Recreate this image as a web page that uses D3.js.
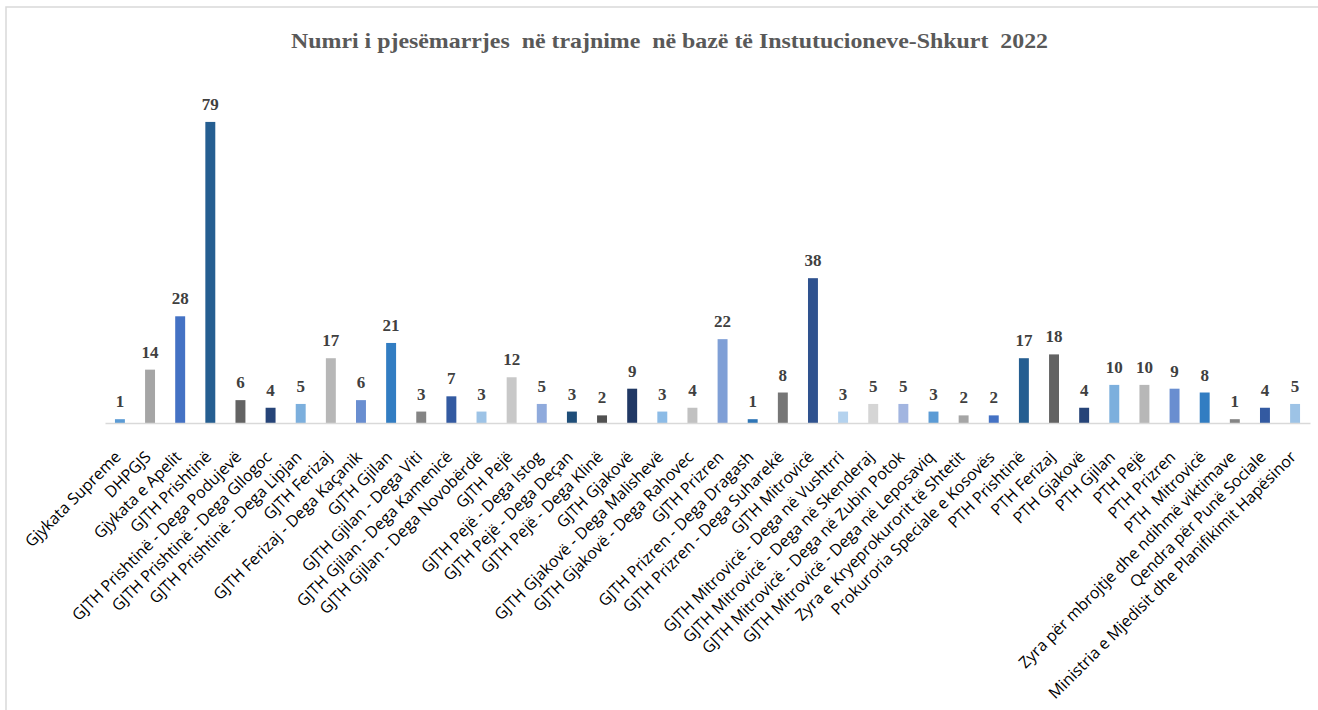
<!DOCTYPE html>
<html>
<head>
<meta charset="utf-8">
<script src="https://cdn.jsdelivr.net/npm/d3@7"></script>
<style>
  body { margin: 0; background: #fff; }
  svg { display: block; }
  svg text { white-space: pre; }
</style>
</head>
<body>
<div id="chart"></div>
<script>
// chart data
const categories = [
    "Gjykata Supreme", "DHPGJS", "Gjykata e Apelit", "GJTH Prishtinë",
    "GJTH Prishtinë - Dega Podujevë", "GJTH Prishtinë - Dega Gllogoc", "GJTH Prishtinë - Dega Lipjan",
    "GJTH Ferizaj", "GJTH Ferizaj - Dega Kaçanik", "GJTH Gjilan", "GJTH Gjilan - Dega Viti",
    "GJTH Gjilan - Dega Kamenicë", "GJTH Gjilan - Dega Novobërdë", "GJTH Pejë", "GJTH Pejë - Dega Istog",
    "GJTH Pejë - Dega Deçan", "GJTH Pejë - Dega Klinë", "GJTH Gjakovë", "GJTH Gjakovë - Dega Malishevë",
    "GJTH Gjakovë - Dega Rahovec", "GJTH Prizren", "GJTH Prizren - Dega Dragash", "GJTH Prizren - Dega Suharekë",
    "GJTH Mitrovicë", "GJTH Mitrovicë - Dega në Vushtrri", "GJTH Mitrovicë - Dega në Skenderaj",
    "GJTH Mitrovicë - Dega në Zubin Potok", "GJTH Mitrovicë - Dega në Leposaviq",
    "Zyra e Kryeprokurorit të Shtetit", "Prokuroria Speciale e Kosovës", "PTH Prishtinë", "PTH Ferizaj",
    "PTH Gjakovë", "PTH Gjilan", "PTH Pejë", "PTH Prizren", "PTH  Mitrovicë",
    "Zyra për mbrojtje dhe ndihmë viktimave", "Qendra për Punë Sociale",
    "Ministria e Mjedisit dhe Planifikimit Hapësinor"
];
const values = [1, 14, 28, 79, 6, 4, 5, 17, 6, 21, 3, 7, 3, 12, 5, 3, 2, 9, 3, 4, 22, 1, 8, 38,
    3, 5, 5, 3, 2, 2, 17, 18, 4, 10, 10, 9, 8, 1, 4, 5];
const titleText = "Numri i pjesëmarrjes  në trajnime  në bazë të Instutucioneve-Shkurt  2022";

// point colours, repeating
const palette = [
    "#5b9bd5", "#a5a5a5", "#4472c4", "#255e91", "#636363", "#264478", "#7cafdd", "#b7b7b7", "#698ed0",
    "#327dc2", "#848484", "#335aa1", "#9dc3e6", "#c8c8c8", "#8faadc", "#1f4e79", "#515151", "#203864",
    "#8cbbe6", "#c1c1c1", "#7f9fd6", "#2e75b6", "#767676", "#2f528f", "#b4d2ee", "#d5d5d5", "#a2b5e0"
];

const W = 1318, H = 710;
const svg = d3.select("#chart").append("svg").attr("width", W).attr("height", H);

// outer frame (runs off the right/bottom edge like the original)
svg.append("rect")
    .attr("x", 6).attr("y", 7).attr("width", W + 20).attr("height", H + 20)
    .attr("fill", "none").attr("stroke", "#d9d9d9").attr("stroke-width", 1.5);

svg.append("text")
    .attr("x", 291).attr("y", 48)
    .attr("textLength", 757).attr("lengthAdjust", "spacingAndGlyphs")
    .attr("font-family", "Liberation Serif, Times New Roman, serif")
    .attr("font-weight", "bold").attr("font-size", 21)
    .attr("fill", "#595959")
    .text(titleText);

const x = d3.scaleBand().domain(categories).range([105, 1310]).paddingInner(0.67).paddingOuter(0.33);
const y = d3.scaleLinear().domain([0, 90]).range([423, 80]);

const data = categories.map((c, i) => ({cat: c, val: values[i], i: i}));

svg.append("g").selectAll("rect")
    .data(data).enter()
    .append("rect")
    .attr("x", d => x(d.cat))
    .attr("y", d => y(d.val))
    .attr("width", x.bandwidth())
    .attr("height", d => y(0) - y(d.val))
    .attr("fill", d => palette[d.i % palette.length]);

svg.append("g").selectAll("text")
    .data(data).enter()
    .append("text")
    .attr("x", d => x(d.cat) + x.bandwidth() / 2)
    .attr("y", d => y(d.val) - 12)
    .attr("text-anchor", "middle")
    .attr("font-family", "Liberation Serif, Times New Roman, serif")
    .attr("font-weight", "bold").attr("font-size", 17)
    .attr("fill", "#404040")
    .text(d => d.val);

// category axis
const xAxis = svg.append("g")
    .attr("transform", `translate(0,${y(0)})`)
    .call(d3.axisBottom(x).tickSize(0).tickPadding(0));
xAxis.select(".domain").attr("stroke", "#d9d9d9").attr("stroke-width", 1.5);
xAxis.selectAll(".tick text")
    .attr("font-family", "Open Sans, sans-serif")
    .attr("font-size", 16)
    .attr("fill", "#000")
    .attr("text-anchor", "end")
    .attr("dy", 0)
    .attr("transform", "translate(2,35) rotate(-45)");
</script>
</body>
</html>
